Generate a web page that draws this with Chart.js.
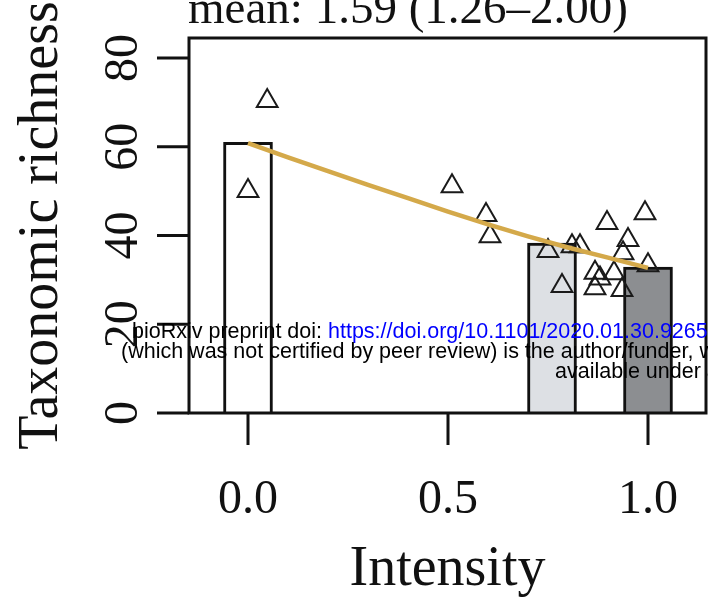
<!DOCTYPE html>
<html>
<head>
<meta charset="utf-8">
<title>Taxonomic richness vs intensity</title>
<script src="https://cdn.jsdelivr.net/npm/chart.js@4"></script>
<style>
  html, body { margin: 0; padding: 0; background: #fff; }
</style>
</head>
<body>
<canvas id="richness" width="708" height="600"></canvas>
<script>
// group means drawn as bars
const barIntensity = [0, 0.76, 1.0];
const barRichness = [61, 38.3, 32.9];

// individual sites (open triangles)
const siteIntensity = [0.048, 0.0, 0.51, 0.595, 0.605, 0.75, 0.81, 0.83, 0.785, 0.8675,
                       0.8675, 0.88, 0.8975, 0.9925, 0.95, 0.9375, 1.0, 0.915, 0.935];
const siteRichness = [70.3, 50.0, 51.1, 44.6, 39.8, 36.5, 37.6, 37.6, 28.6, 31.6,
                      28.1, 30.3, 42.8, 45.0, 39.0, 36.0, 33.3, 31.5, 27.7];

// fitted curve
const fitIntensity = [0, 0.1, 0.2, 0.3, 0.4, 0.5, 0.6, 0.7, 0.8, 0.9, 1.0];
const fitRichness = [60.8, 57.6, 54.5, 51.4, 48.4, 45.4, 42.5, 39.8, 37.3, 35.0, 32.7];

const yTicks = [0, 20, 40, 60, 80];
const xTicks = [0, 0.5, 1.0];
const xTickLabels = ['0.0', '0.5', '1.0'];

const plotTitle = 'mean: 1.59 (1.26\u20132.00)';
const xTitle = 'Intensity';
const yTitle = 'Taxonomic richness';

const serif = '"Liberation Serif", "DejaVu Serif", serif';

const toPoints = (xs, ys) => xs.map((v, i) => ({ x: v, y: ys[i] }));

// box, ticks and axis text in the base-graphics look
const frame = {
  id: 'frame',
  afterDatasetsDraw(chart) {
    const { ctx, chartArea: a, scales: { x, y } } = chart;
    ctx.save();
    ctx.strokeStyle = '#111';
    ctx.lineWidth = 3;
    ctx.strokeRect(a.left, a.top, a.right - a.left, a.bottom - a.top);

    ctx.beginPath();
    yTicks.forEach(v => {
      const py = y.getPixelForValue(v);
      ctx.moveTo(a.left - 32, py);
      ctx.lineTo(a.left, py);
    });
    xTicks.forEach(v => {
      const px = x.getPixelForValue(v);
      ctx.moveTo(px, a.bottom);
      ctx.lineTo(px, a.bottom + 32);
    });
    ctx.stroke();

    ctx.fillStyle = '#111';
    ctx.textAlign = 'center';
    ctx.textBaseline = 'alphabetic';

    ctx.font = '48px ' + serif;
    xTicks.forEach((v, i) => {
      ctx.fillText(xTickLabels[i], x.getPixelForValue(v), a.bottom + 100);
    });
    yTicks.forEach(v => {
      ctx.save();
      ctx.translate(a.left - 52, y.getPixelForValue(v));
      ctx.rotate(-Math.PI / 2);
      ctx.fillText(String(v), 0, 0);
      ctx.restore();
    });

    ctx.font = '56px ' + serif;
    ctx.fillText(xTitle, (a.left + a.right) / 2, a.bottom + 172);
    ctx.save();
    ctx.translate(57, (a.top + a.bottom) / 2);
    ctx.rotate(-Math.PI / 2);
    ctx.fillText(yTitle, 0, 0);
    ctx.restore();

    ctx.font = '47px ' + serif;
    ctx.fillText(plotTitle, 408, 23);
    ctx.restore();
  }
};

// preprint stamp printed over the figure
const stamp = {
  id: 'stamp',
  afterDraw(chart) {
    const ctx = chart.ctx;
    ctx.save();
    ctx.font = '21.5px "Liberation Sans", Arial, sans-serif';
    ctx.textAlign = 'left';
    ctx.textBaseline = 'alphabetic';
    ctx.fillStyle = '#000';
    const lead = 'bioRxiv preprint doi: ';
    ctx.fillText(lead, 132, 338);
    ctx.fillStyle = '#0000ff';
    ctx.fillText('https://doi.org/10.1101/2020.01.30.926501', 132 + ctx.measureText(lead).width, 338);
    ctx.fillStyle = '#000';
    ctx.fillText('(which was not certified by peer review) is the author/funder, who has granted', 121, 358);
    ctx.fillText('available under aCC-BY-NC-ND 4.0', 555, 378);
    ctx.restore();
  }
};

new Chart(document.getElementById('richness'), {
  type: 'bar',
  data: {
    datasets: [
      {
        type: 'line',
        data: toPoints(fitIntensity, fitRichness),
        borderColor: '#d4a94a',
        borderWidth: 4.5,
        pointRadius: 0,
        fill: false,
        order: 1
      },
      {
        type: 'scatter',
        data: toPoints(siteIntensity, siteRichness),
        pointStyle: 'triangle',
        pointRadius: 12,
        borderWidth: 2,
        borderColor: '#1a1a1a',
        backgroundColor: 'rgba(0,0,0,0)',
        order: 2
      },
      {
        type: 'bar',
        data: toPoints(barIntensity, barRichness),
        backgroundColor: ['#ffffff', '#dde0e4', '#8c8e91'],
        borderColor: '#111',
        borderWidth: 3,
        barThickness: 49,
        order: 3
      }
    ]
  },
  options: {
    responsive: false,
    devicePixelRatio: 1,
    animation: false,
    layout: { autoPadding: false, padding: { left: 189, right: 2, top: 38, bottom: 187 } },
    scales: {
      x: { type: 'linear', offset: false, min: -0.1475, max: 1.145, display: false },
      y: { min: 0, max: 84.5, display: false }
    },
    plugins: {
      legend: { display: false },
      tooltip: { enabled: false }
    }
  },
  plugins: [frame, stamp]
});
</script>
</body>
</html>
